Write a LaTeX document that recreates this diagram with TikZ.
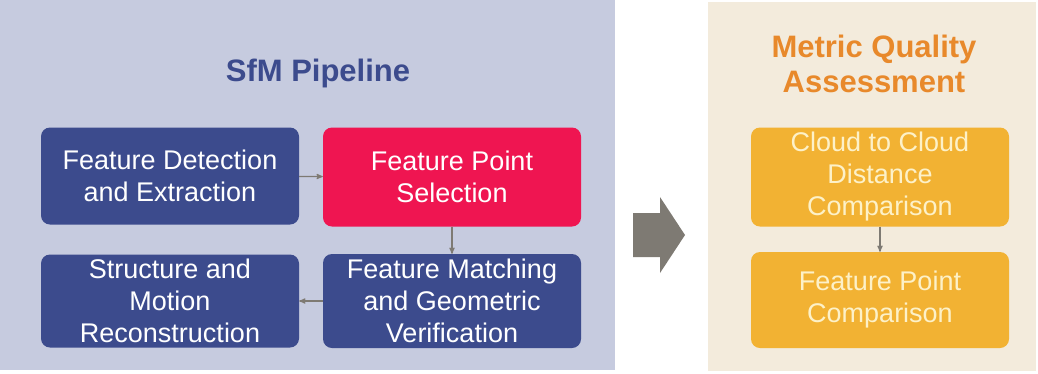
\documentclass[tikz,border=0pt]{standalone}
\usepackage{fontspec}
\setmainfont{Liberation Sans}
\usepackage{tikz}
\usetikzlibrary{arrows}
\definecolor{sfmback}{HTML}{C6CBDF}
\definecolor{mqaback}{HTML}{F3EBDC}
\definecolor{sfmblue}{HTML}{3C4B8D}
\definecolor{sfmred}{HTML}{EF1551}
\definecolor{mqaorange}{HTML}{F2B233}
\definecolor{mqatitle}{HTML}{E8892B}
\definecolor{mqatext}{HTML}{FDF1C8}
\definecolor{flowgray}{HTML}{7E7A73}
\tikzstyle{stage}=[rounded corners=9pt,minimum width=258pt,inner sep=0pt,align=center,
                   font=\fontsize{27}{32}\selectfont]
\tikzstyle{sfm}=[stage,fill=sfmblue,text=white]
\tikzstyle{mqa}=[stage,fill=mqaorange,text=mqatext]
\tikzstyle{title}=[align=center,font=\fontsize{31}{35}\selectfont\bfseries]
\tikzstyle{flow}=[draw=flowgray,line width=1.2pt,-stealth']

\begin{document}
\begin{tikzpicture}[x=1pt,y=-1pt]
				\useasboundingbox (0,0) rectangle (1038,373);
				% First we draw the two panels
				\fill[sfmback] (0,0) rectangle (615,370);
				\fill[mqaback] (708,2) rectangle (1036,371);
				\node[title,text=sfmblue] (sfmtitle) at (318,73) {SfM Pipeline};
				\node[title,text=mqatitle] (mqatitle) at (874,64) {Metric Quality\\Assessment};

				% Then the stages of the pipeline
				\foreach \pos/\name/\height/\text in {{(170,176)/detect/97/Feature Detection\\and Extraction},
										{(170,301)/motion/93/Structure and\\Motion\\Reconstruction},
										{(452,301)/match/94/Feature Matching\\and Geometric\\Verification}}
				\node[sfm,minimum height=\height pt] (\name) at \pos {\text};
				\node[sfm,fill=sfmred,minimum height=99pt] (select) at (452,177) {Feature Point\\Selection};

				% and the stages of the assessment
				\foreach \pos/\name/\height/\text in {{(880,177)/cloud/99/Cloud to Cloud\\Distance\\Comparison},
										{(880,300)/point/96/Feature Point\\Comparison}}
				\node[mqa,minimum height=\height pt] (\name) at \pos {\text};

				% Connect stages with arrows
				\foreach \source/ \dest in {detect/select, select/match, match/motion, cloud/point}
				\path[flow] (\source) -- (\dest);

				% Block arrow between the panels
				\fill[flowgray] (633,213) -- (660,213) -- (660,197) -- (685,235) -- (660,273)
					-- (660,257) -- (633,257) -- cycle;
			\end{tikzpicture}
\end{document}
